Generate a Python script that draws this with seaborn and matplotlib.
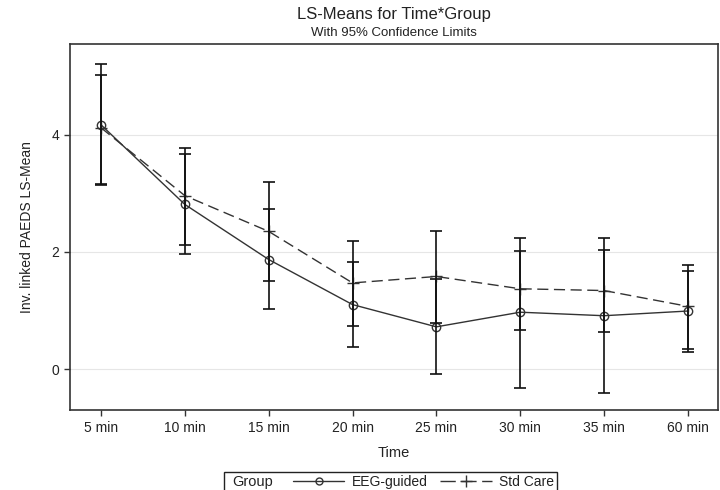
import numpy as np
import pandas as pd
import matplotlib
matplotlib.use("Agg")
import matplotlib.pyplot as plt
import seaborn as sns
from matplotlib.lines import Line2D
from matplotlib.patches import Rectangle

# values
times = ["5 min", "10 min", "15 min", "20 min", "25 min", "30 min", "35 min", "60 min"]
eeg_mean = [4.17, 2.81, 1.87, 1.10, 0.72, 0.97, 0.91, 0.99]
eeg_low = [3.14, 1.96, 1.03, 0.37, -0.09, -0.32, -0.41, 0.29]
eeg_high = [5.20, 3.68, 2.73, 1.82, 1.53, 2.23, 2.23, 1.67]
std_mean = [4.12, 2.96, 2.35, 1.47, 1.58, 1.37, 1.34, 1.07]
std_low = [3.16, 2.11, 1.50, 0.74, 0.79, 0.67, 0.63, 0.35]
std_high = [5.02, 3.78, 3.20, 2.18, 2.35, 2.02, 2.04, 1.77]
groups = ["EEG-guided", "Std Care"]

df = pd.DataFrame({
    "Time": times * 2,
    "Group": [groups[0]] * len(times) + [groups[1]] * len(times),
    "mean": eeg_mean + std_mean,
    "low": eeg_low + std_low,
    "high": eeg_high + std_high,
})
df["pos"] = df["Time"].map({t: i for i, t in enumerate(times)})

sns.set_theme(style="white")
plt.rcParams["font.family"] = ["Liberation Sans", "DejaVu Sans"]

fig = plt.figure(figsize=(7.2, 4.9), dpi=100)
ax = fig.add_axes([70 / 720, 1 - 410 / 490, 648 / 720, 366 / 490])

line_col = "#333333"
styles = {
    "EEG-guided": dict(marker="o", markersize=6, markerfacecolor="none",
                       markeredgecolor=line_col, linestyle="-"),
    "Std Care": dict(marker="+", markersize=8, markeredgecolor=line_col,
                     linestyle=(0, (8, 4))),
}
for g in groups:
    sub = df[df["Group"] == g]
    sns.lineplot(data=sub, x="pos", y="mean", color=line_col, linewidth=1.0,
                 markeredgewidth=1.0, ax=ax, **styles[g])
    ax.errorbar(sub["pos"], sub["mean"],
                yerr=[sub["mean"] - sub["low"], sub["high"] - sub["mean"]],
                fmt="none", ecolor="#111111", elinewidth=1.2, capsize=4.5, capthick=1.2)

ax.set_xlim(-0.37, 7.36)
ax.set_ylim(-0.7, 5.55)
ax.set_xticks(range(len(times)))
ax.set_xticklabels(times)
ax.set_yticks([0, 2, 4])
ax.yaxis.grid(True, color="#e6e6e6", linewidth=0.8)
ax.set_axisbelow(True)
ax.tick_params(axis="both", direction="out", length=4, width=1, color="#333333",
               labelsize=10, bottom=True, left=True, pad=4, labelcolor="#222222")
for s in ax.spines.values():
    s.set_color("#333333")
    s.set_linewidth(1.2)
ax.set_xlabel("Time", fontsize=10.5, labelpad=8, color="#222222")
ax.set_ylabel("Inv. linked PAEDS LS-Mean", fontsize=10, labelpad=12, color="#222222")

fig.text(394 / 720, 0.985, "LS-Means for Time*Group", ha="center", va="top",
         fontsize=12, color="#222222")
fig.text(394 / 720, 0.945, "With 95% Confidence Limits", ha="center", va="top",
         fontsize=9.5, color="#222222")

# legend box along the bottom
fig.patches.append(Rectangle((224 / 720, -0.01), 333 / 720, (490 - 472) / 490 + 0.01,
                             transform=fig.transFigure, fill=False,
                             edgecolor="#222222", linewidth=1.0))
fig.text(232 / 720, 1 - 482 / 490, "Group", ha="left", va="center", fontsize=10.5,
         color="#222222")
handles = [
    Line2D([], [], color=line_col, linewidth=1.0, marker="o", markersize=5,
           markerfacecolor="none"),
    Line2D([], [], color=line_col, linewidth=1.0, linestyle=(0, (11, 4)),
           marker="+", markersize=9),
]
leg = fig.legend(handles, groups, loc="center left", ncol=2, frameon=False,
                 bbox_to_anchor=(293 / 720, 1 - 482 / 490), fontsize=10,
                 handlelength=3.7, columnspacing=0.9, handletextpad=0.55,
                 borderaxespad=0, borderpad=0)
for t in leg.get_texts():
    t.set_color("#222222")

fig.savefig("out.png", dpi=100)
